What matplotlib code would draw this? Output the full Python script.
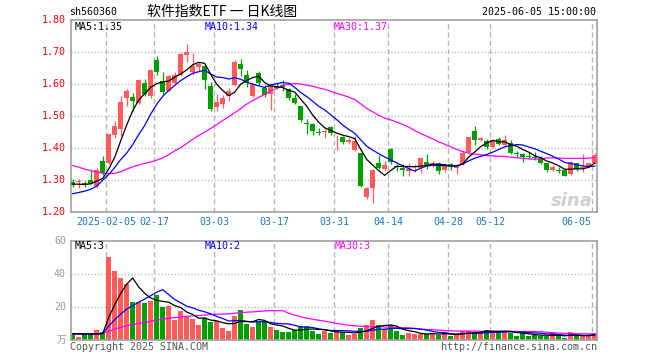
import numpy as np
import pandas as pd
import matplotlib
matplotlib.use("Agg")
import matplotlib.pyplot as plt

plt.rcParams['font.family'] = ['DejaVu Sans Mono', 'Noto Sans CJK SC']

# ---------------- data ----------------
holidays = ['2025-01-28', '2025-01-29', '2025-01-30', '2025-01-31', '2025-02-03', '2025-02-04',
            '2025-04-04', '2025-05-01', '2025-05-02', '2025-05-05', '2025-06-02']
dates = [d for d in pd.bdate_range('2025-01-20', '2025-06-05') if d.strftime('%Y-%m-%d') not in holidays]

open_ = [1.296, 1.294, 1.292, 1.300, 1.283, 1.361, 1.355, 1.443, 1.460, 1.558,
         1.560, 1.542, 1.604, 1.563, 1.675, 1.610, 1.580, 1.605, 1.630, 1.693,
         1.638, 1.655, 1.656, 1.594, 1.530, 1.539, 1.562, 1.599, 1.664, 1.628,
         1.563, 1.636, 1.589, 1.570, 1.596, 1.599, 1.584, 1.558, 1.533, 1.480,
         1.477, 1.451, 1.451, 1.466, 1.434, 1.435, 1.419, 1.396, 1.386, 1.249,
         1.275, 1.355, 1.334, 1.399, 1.345, 1.339, 1.329, 1.341, 1.337, 1.358,
         1.351, 1.353, 1.332, 1.352, 1.337, 1.352, 1.389, 1.454, 1.427, 1.423,
         1.405, 1.430, 1.410, 1.416, 1.384, 1.383, 1.376, 1.373, 1.370, 1.355,
         1.331, 1.333, 1.333, 1.319, 1.355, 1.337, 1.341, 1.355]
high = [1.303, 1.305, 1.297, 1.334, 1.337, 1.377, 1.445, 1.485, 1.562, 1.584,
        1.573, 1.617, 1.618, 1.649, 1.688, 1.638, 1.628, 1.640, 1.698, 1.726,
        1.698, 1.670, 1.662, 1.606, 1.570, 1.568, 1.587, 1.677, 1.679, 1.646,
        1.604, 1.641, 1.599, 1.604, 1.604, 1.612, 1.589, 1.570, 1.533, 1.492,
        1.480, 1.464, 1.459, 1.469, 1.443, 1.440, 1.433, 1.440, 1.386, 1.279,
        1.336, 1.379, 1.360, 1.402, 1.350, 1.352, 1.355, 1.350, 1.370, 1.381,
        1.360, 1.358, 1.352, 1.355, 1.352, 1.393, 1.436, 1.469, 1.435, 1.430,
        1.430, 1.436, 1.443, 1.427, 1.391, 1.384, 1.388, 1.388, 1.376, 1.355,
        1.347, 1.341, 1.333, 1.360, 1.355, 1.383, 1.355, 1.386]
low = [1.278, 1.275, 1.280, 1.287, 1.275, 1.318, 1.352, 1.432, 1.440, 1.532,
       1.518, 1.539, 1.562, 1.558, 1.630, 1.570, 1.578, 1.600, 1.625, 1.670,
       1.630, 1.641, 1.584, 1.518, 1.516, 1.526, 1.549, 1.594, 1.625, 1.591,
       1.560, 1.599, 1.560, 1.521, 1.584, 1.578, 1.552, 1.539, 1.482, 1.446,
       1.443, 1.443, 1.433, 1.441, 1.396, 1.414, 1.414, 1.393, 1.279, 1.241,
       1.228, 1.334, 1.329, 1.352, 1.329, 1.313, 1.313, 1.326, 1.324, 1.334,
       1.341, 1.321, 1.327, 1.331, 1.321, 1.348, 1.383, 1.410, 1.423, 1.398,
       1.402, 1.410, 1.407, 1.381, 1.374, 1.357, 1.365, 1.363, 1.350, 1.327,
       1.329, 1.324, 1.312, 1.316, 1.329, 1.326, 1.337, 1.352]
close = [1.284, 1.296, 1.286, 1.289, 1.332, 1.324, 1.445, 1.470, 1.545, 1.580,
         1.547, 1.612, 1.570, 1.644, 1.637, 1.575, 1.625, 1.630, 1.695, 1.700,
         1.656, 1.662, 1.615, 1.524, 1.545, 1.558, 1.580, 1.670, 1.649, 1.604,
         1.601, 1.604, 1.568, 1.599, 1.587, 1.593, 1.558, 1.542, 1.488, 1.477,
         1.454, 1.447, 1.454, 1.448, 1.436, 1.420, 1.425, 1.422, 1.282, 1.277,
         1.331, 1.339, 1.349, 1.358, 1.341, 1.331, 1.336, 1.345, 1.370, 1.348,
         1.353, 1.329, 1.345, 1.348, 1.348, 1.386, 1.436, 1.425, 1.432, 1.404,
         1.426, 1.414, 1.426, 1.386, 1.381, 1.374, 1.373, 1.369, 1.355, 1.331,
         1.342, 1.330, 1.314, 1.358, 1.336, 1.341, 1.355, 1.380]
volume = [3.2, 2.2, 3.6, 3.6, 6.4, 4.8, 50.4, 42.0, 37.8, 34.2,
          23.3, 23.3, 22.7, 23.9, 27.3, 20.1, 20.7, 12.5, 17.9, 13.9,
          12.9, 9.2, 13.5, 11.3, 11.7, 7.6, 5.6, 14.7, 18.3, 9.8,
          8.0, 11.9, 11.9, 8.0, 6.2, 5.0, 5.0, 6.2, 8.6, 8.6,
          5.6, 3.8, 5.8, 4.5, 5.6, 4.8, 3.2, 4.0, 7.4, 9.2,
          12.3, 9.2, 6.6, 9.0, 5.6, 3.2, 4.4, 3.8, 4.0, 3.6,
          4.2, 3.2, 5.0, 2.6, 3.2, 5.6, 5.6, 5.0, 5.0, 6.2,
          5.6, 5.0, 5.6, 4.4, 2.6, 4.4, 2.6, 3.2, 2.6, 2.6,
          4.2, 2.6, 1.4, 5.0, 2.6, 2.6, 2.6, 4.2]

# moving-average values at the start of the window (earlier data not shown)
ma5_head = [1.288, 1.288, 1.287, 1.289]
ma10_head = [1.258, 1.262, 1.266, 1.272, 1.282, 1.300, 1.318, 1.340, 1.365]
ma30_head = [1.346, 1.341, 1.335, 1.330, 1.326, 1.322, 1.321, 1.322, 1.327, 1.335,
             1.342, 1.348, 1.353, 1.357, 1.363, 1.370, 1.380, 1.392, 1.402, 1.415,
             1.428, 1.440, 1.451, 1.462, 1.474, 1.487, 1.499, 1.511, 1.524]
vma5_head = [4.0, 4.0, 3.9, 3.9]
vma10_head = [3.8, 3.8, 3.7, 3.7, 3.9, 4.0, 8.6, 12.4, 15.8]
vma30_head = [3.8, 3.8, 3.8, 3.8, 3.9, 4.0, 5.4, 6.7, 7.8, 8.8,
              9.5, 10.1, 10.7, 11.4, 12.2, 12.7, 13.3, 13.6, 14.1, 14.4,
              14.7, 14.9, 15.2, 15.5, 15.7, 15.8, 15.9, 16.3, 16.7]

tick_labels = ['2025-02-05', '02-17', '03-03', '03-17', '03-31', '04-14', '04-28', '05-12', '06-05']
tick_dates = ['2025-02-05', '2025-02-17', '2025-03-03', '2025-03-17', '2025-03-31',
              '2025-04-14', '2025-04-28', '2025-05-12', '2025-06-05']
price_ticks = [1.20, 1.30, 1.40, 1.50, 1.60, 1.70, 1.80]
vol_ticks = [20, 40, 60]

legend_price = ['MA5:1.35', 'MA10:1.34', 'MA30:1.37']
legend_vol = ['MA5:3', 'MA10:2', 'MA30:3']

# ---------------- helpers ----------------
def moving_average(vals, n, head):
    s = pd.Series(vals).rolling(n).mean().to_numpy()
    s[:len(head)] = head
    return s

o = np.array(open_); h = np.array(high); l = np.array(low); c = np.array(close)
v = np.array(volume)
x = np.arange(len(c))
up = c >= o
RED = '#ff5a5a'
GREEN = '#00a000'
colors = np.where(up, RED, GREEN)

W, H = 660, 360
fig = plt.figure(figsize=(6.6, 3.6), dpi=100)

def px_rect(left, top, right, bottom):
    return [left / W, 1 - bottom / H, (right - left) / W, (bottom - top) / H]

axp = fig.add_axes(px_rect(70.6, 20.3, 597.3, 212.3))
axv = fig.add_axes(px_rect(70.6, 240.7, 597.3, 340.3))

xlim = (-0.35, 87.43)
date_str = [d.strftime('%Y-%m-%d') for d in dates]
tick_pos = [date_str.index(t) - 0.4 for t in tick_dates]

for ax in (axp, axv):
    ax.set_xlim(*xlim)
    for sp in ax.spines.values():
        sp.set_color('#a0a0a0')
        sp.set_linewidth(1.2)
    ax.set_xticks([])
    ax.set_yticks([])
    for tp in tick_pos:
        ax.axvline(tp, color='#b4b4b4', lw=1.0, ls=(0, (3.6, 2.4)), zorder=0)

# price panel
axp.set_ylim(1.20, 1.80)
for yv in price_ticks[1:-1]:
    axp.axhline(yv, color='#b0b0b0', lw=1.0, ls=(0, (0.8, 1.6)), zorder=0)

axp.vlines(x, l, h, colors=colors, lw=0.9, zorder=2)
body_h = np.maximum(np.abs(c - o), 0.0025)
body_b = np.where(np.abs(c - o) < 0.0025, (c + o) / 2 - 0.00125, np.minimum(c, o))
axp.bar(x, body_h, bottom=body_b, width=0.8, color=colors, lw=0, zorder=3)

ma5 = moving_average(c, 5, ma5_head)
ma10 = moving_average(c, 10, ma10_head)
ma30 = moving_average(c, 30, ma30_head)
axp.plot(x, ma30, color='#ff00ff', lw=0.9, zorder=4)
axp.plot(x, ma10, color='#0000ff', lw=0.9, zorder=4)
axp.plot(x, ma5, color='#000000', lw=0.9, zorder=5)

# volume panel
axv.set_ylim(0, 60)
for yv in vol_ticks[:-1]:
    axv.axhline(yv, color='#b0b0b0', lw=1.0, ls=(0, (0.8, 1.6)), zorder=0)
axv.bar(x, v, width=0.8, color=colors, lw=0, zorder=2)
vma5 = moving_average(v, 5, vma5_head)
vma10 = moving_average(v, 10, vma10_head)
vma30 = moving_average(v, 30, vma30_head)
axv.plot(x, vma30, color='#ff00ff', lw=0.9, zorder=4)
axv.plot(x, vma10, color='#0000ff', lw=0.9, zorder=4)
axv.plot(x, vma5, color='#000000', lw=0.9, zorder=5)

# ---------------- texts ----------------
FS = 7.2
def ftext(px, py, s, **kw):
    kw.setdefault('fontsize', FS)
    fig.text(px / W, 1 - py / H, s, **kw)

# header
ftext(69, 12, 'sh560360', ha='left', va='center', color='#000000')
ftext(222, 12, '软件指数ETF 一 日K线图', ha='center', va='center', color='#000000',
      fontsize=10, family=['Noto Sans CJK SC', 'DejaVu Sans'])
ftext(596.5, 12, '2025-06-05 15:00:00', ha='right', va='center', color='#000000')

# price y labels
for yv in price_ticks:
    ypx = 212.3 - (yv - 1.20) / 0.60 * 192.0
    ftext(66, ypx, f'{yv:.2f}', ha='right', va='center', color='#ff0000')

# volume y labels
for yv in vol_ticks:
    ypx = 340.3 - yv / 60 * 99.6
    ftext(66, ypx, f'{yv}', ha='right', va='center', color='#9a9a9a')
ftext(66, 340, '万', ha='right', va='center', color='#9a9a9a',
      family=['Noto Sans CJK SC', 'DejaVu Sans'], fontsize=7)

# date labels
for i, (tp, lab) in enumerate(zip(tick_pos, tick_labels)):
    xpx = 70.6 + (tp - xlim[0]) / (xlim[1] - xlim[0]) * (597.3 - 70.6)
    ha = 'right' if i == len(tick_labels) - 1 else 'center'
    xx = xpx - 1 if ha == 'right' else xpx
    ftext(xx, 222, lab, ha=ha, va='center', color='#1a78c8')

# legends
leg_x = [75, 205, 334]
leg_c = ['#000000', '#0000ff', '#ff00ff']
for s, xx, cc in zip(legend_price, leg_x, leg_c):
    ftext(xx, 27, s, ha='left', va='center', color=cc)
for s, xx, cc in zip(legend_vol, [75, 205, 335], leg_c):
    ftext(xx, 246, s, ha='left', va='center', color=cc)

# footer
ftext(70, 347, 'Copyright 2025 SINA.COM', ha='left', va='center', color='#555555')
ftext(597, 347, 'http://finance.sina.com.cn', ha='right', va='center', color='#555555')

# sina watermark
ftext(593, 201, 'sina', ha='right', va='center', color='#d0d0d0', fontsize=13,
      fontweight='bold', style='italic', family=['DejaVu Sans'])

fig.savefig('out.png', dpi=100)
